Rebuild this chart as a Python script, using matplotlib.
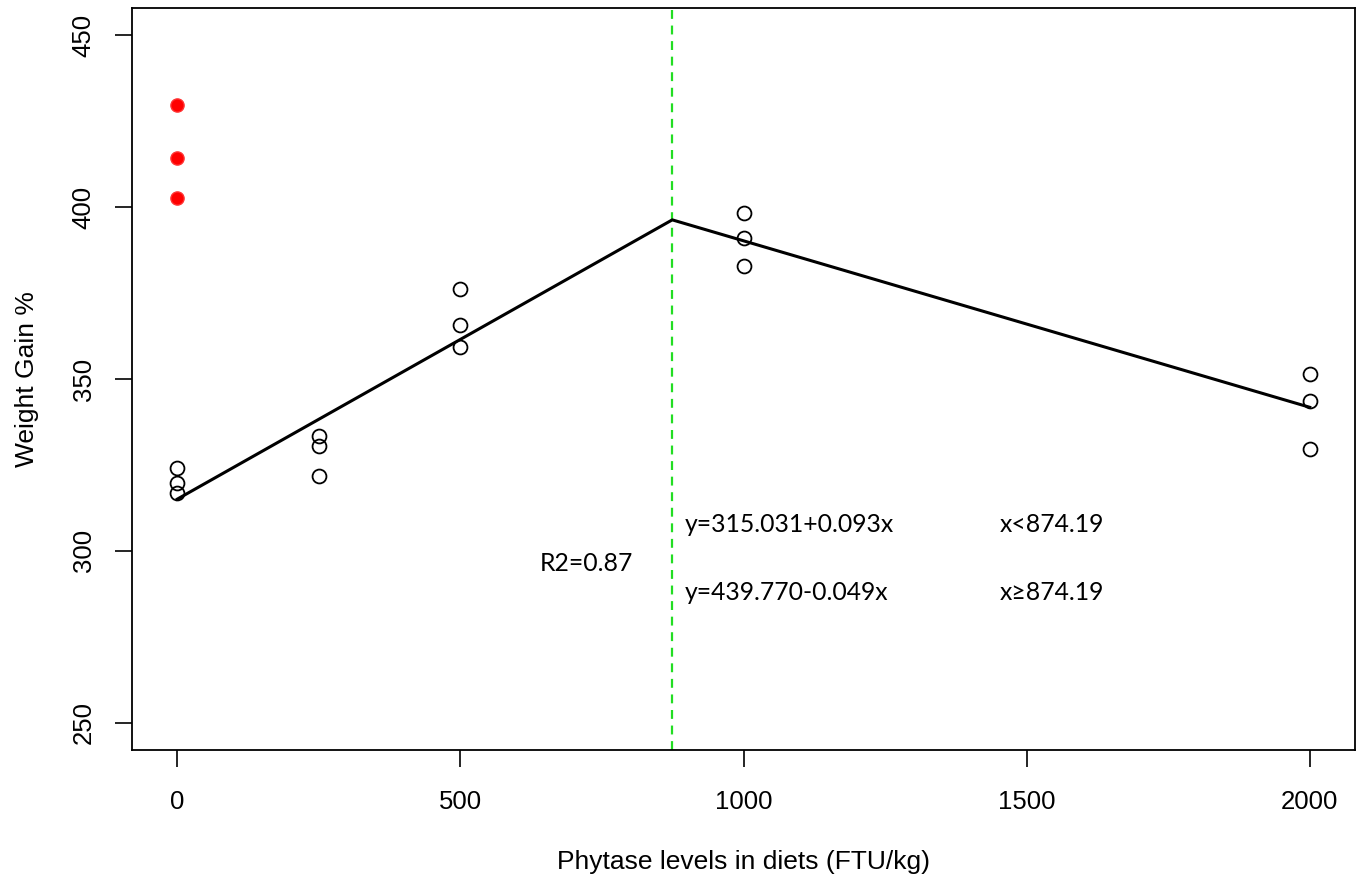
import numpy as np
import matplotlib.pyplot as plt

# phytase level (FTU/kg) and weight gain % (three replicates each)
dose_open = [0, 0, 0, 250, 250, 250, 500, 500, 500, 1000, 1000, 1000, 2000, 2000, 2000]
gain_open = [324.1, 319.8, 316.9, 333.4, 330.5, 321.8, 376.2, 365.7, 359.3,
             398.3, 391.0, 382.8, 351.5, 343.6, 329.6]
dose_red = [0, 0, 0]
gain_red = [429.8, 414.4, 402.8]

# broken-line fit
fit_x = [0, 874.19, 2000]
fit_y = [315.031, 396.33, 341.77]
breakpoint = 874.19

xticks = [0, 500, 1000, 1500, 2000]
yticks = [250, 300, 350, 400, 450]

plt.rcParams['font.family'] = ['Liberation Sans', 'DejaVu Sans']
fig = plt.figure(figsize=(13.59, 8.80), dpi=100)
ax = fig.add_axes([0.0971, 0.1477, 0.9, 0.8432])

ax.plot(fit_x, fit_y, color='black', linewidth=2.2, zorder=2)
ax.axvline(breakpoint, color='#22dd22', linestyle=(0, (4, 3)), linewidth=1.6, zorder=1)
ax.plot(dose_open, gain_open, 'o', markersize=10, markerfacecolor='none',
        markeredgecolor='black', markeredgewidth=1.3, zorder=3)
ax.plot(dose_red, gain_red, 'o', markersize=9.5, markerfacecolor='red',
        markeredgecolor='#ff3333', markeredgewidth=1.0, zorder=3)

ax.set_xlim(-80, 2080)
ax.set_ylim(242, 458)
ax.set_xticks(xticks)
ax.set_yticks(yticks)
ax.tick_params(length=12, width=1.2, labelsize=18.5)
ax.tick_params(axis='x', pad=17)
ax.tick_params(axis='y', pad=14)
for lab in ax.get_yticklabels():
    lab.set_rotation(90)
    lab.set_va('center')
for s in ax.spines.values():
    s.set_linewidth(1.3)

ax.set_xlabel('Phytase levels in diets (FTU/kg)', fontsize=19, labelpad=26)
ax.set_ylabel('Weight Gain %', fontsize=19, labelpad=24)

tf = dict(fontsize=17.8, family=['Lato', 'DejaVu Sans'], va='center')
ax.text(640, 296.2, 'R2=0.87', **tf)
ax.text(897, 307.6, 'y=315.031+0.093x', **tf)
ax.text(1453, 307.6, 'x<874.19', **tf)
ax.text(897, 287.8, 'y=439.770-0.049x', **tf)
ax.text(1453, 287.8, 'x\u2265874.19', **tf)

fig.savefig('out.png', dpi=100)
